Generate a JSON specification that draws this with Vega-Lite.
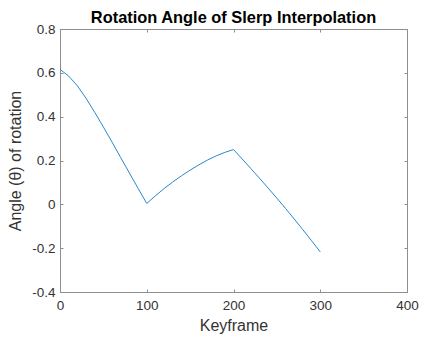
{
  "$schema": "https://vega.github.io/schema/vega-lite/v6.json",
  "width": 347,
  "height": 263,
  "autosize": "none",
  "padding": {"left": 60, "top": 29, "right": 17, "bottom": 47},
  "background": "white",
  "config": {
    "font": "Liberation Sans",
    "view": {"stroke": null},
    "axis": {
      "grid": false,
      "domainColor": "#8f8f8f",
      "domainWidth": 1,
      "tickColor": "#8f8f8f",
      "tickWidth": 1,
      "tickSize": -3,
      "labelFlush": false,
      "labelColor": "#333333",
      "labelFont": "Liberation Sans",
      "labelFontSize": 13.5,
      "titleColor": "#333333",
      "titleFont": "Liberation Sans",
      "titleFontSize": 16,
      "titleFontWeight": "normal"
    }
  },
  "title": {
    "text": "Rotation Angle of Slerp Interpolation",
    "font": "Liberation Sans",
    "fontSize": 16.4,
    "fontWeight": "bold",
    "color": "#000000",
    "anchor": "middle",
    "offset": -4
  },
  "data": {
    "values": [
      {"keyframe": 0, "angle": 0.616},
      {"keyframe": 10, "angle": 0.585},
      {"keyframe": 20, "angle": 0.541},
      {"keyframe": 30, "angle": 0.484},
      {"keyframe": 40, "angle": 0.42},
      {"keyframe": 50, "angle": 0.353},
      {"keyframe": 60, "angle": 0.284},
      {"keyframe": 70, "angle": 0.213},
      {"keyframe": 80, "angle": 0.143},
      {"keyframe": 90, "angle": 0.073},
      {"keyframe": 100, "angle": 0.004},
      {"keyframe": 110, "angle": 0.039},
      {"keyframe": 120, "angle": 0.072},
      {"keyframe": 130, "angle": 0.102},
      {"keyframe": 140, "angle": 0.13},
      {"keyframe": 150, "angle": 0.156},
      {"keyframe": 160, "angle": 0.18},
      {"keyframe": 170, "angle": 0.202},
      {"keyframe": 180, "angle": 0.221},
      {"keyframe": 190, "angle": 0.237},
      {"keyframe": 200, "angle": 0.25},
      {"keyframe": 210, "angle": 0.207},
      {"keyframe": 220, "angle": 0.163},
      {"keyframe": 230, "angle": 0.119},
      {"keyframe": 240, "angle": 0.074},
      {"keyframe": 250, "angle": 0.028},
      {"keyframe": 260, "angle": -0.019},
      {"keyframe": 270, "angle": -0.067},
      {"keyframe": 280, "angle": -0.116},
      {"keyframe": 290, "angle": -0.166},
      {"keyframe": 300, "angle": -0.217}
    ]
  },
  "layer": [
    {
      "mark": {"type": "line", "color": "#2a88cc", "strokeWidth": 1},
      "encoding": {
        "x": {
          "field": "keyframe",
          "type": "quantitative",
          "scale": {"domain": [0, 400], "nice": false},
          "axis": {"values": [0, 100, 200, 300, 400], "title": "Keyframe", "labelPadding": 9, "titlePadding": 6}
        },
        "y": {
          "field": "angle",
          "type": "quantitative",
          "scale": {"domain": [-0.4, 0.8], "nice": false, "zero": false},
          "axis": {
            "values": [-0.4, -0.2, 0, 0.2, 0.4, 0.6, 0.8],
            "labelExpr": "toString(round(datum.value * 10) / 10)",
            "title": "Angle (θ) of rotation",
            "labelPadding": 8,
            "titlePadding": 8
          }
        }
      }
    },
    {
      "mark": {"type": "line", "opacity": 0},
      "encoding": {
        "x": {
          "field": "keyframe",
          "type": "quantitative",
          "scale": {"domain": [0, 400], "nice": false},
          "axis": {"orient": "top", "values": [0, 100, 200, 300, 400], "labels": false, "title": null}
        },
        "y": {
          "field": "angle",
          "type": "quantitative",
          "scale": {"domain": [-0.4, 0.8], "nice": false, "zero": false},
          "axis": {"orient": "right", "values": [-0.4, -0.2, 0, 0.2, 0.4, 0.6, 0.8], "labels": false, "title": null}
        }
      }
    }
  ],
  "resolve": {"axis": {"x": "independent", "y": "independent"}}
}
